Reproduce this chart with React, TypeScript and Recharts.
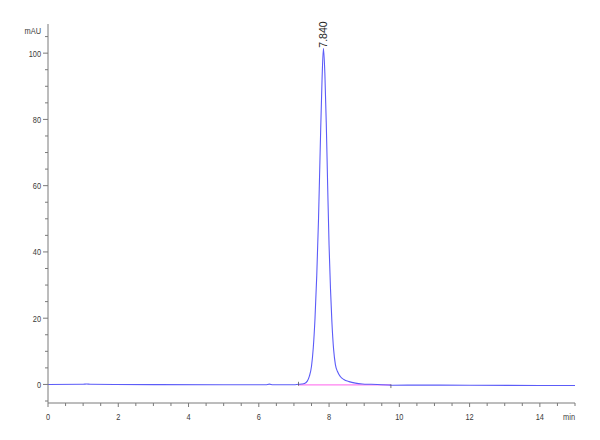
import React from 'react';
import { LineChart, Line, XAxis, YAxis, ReferenceDot, ReferenceLine } from 'recharts';

// retention time (min) and detector signal (mAU)
const times = [
  0, 1.0, 1.1, 1.2, 1.9, 3.0, 5.0, 6.2, 6.3, 6.4, 7.0, 7.13, 7.22, 7.3, 7.38, 7.44, 7.5, 7.55,
  7.6, 7.65, 7.7, 7.75, 7.8, 7.84, 7.88, 7.92, 7.96, 8.0, 8.04, 8.08, 8.13, 8.18, 8.24, 8.32,
  8.42, 8.57, 8.75, 8.95, 9.2, 9.76, 9.8, 10.5, 12, 14, 15,
];
const signal = [
  0, 0.05, 0.15, 0.05, 0, -0.05, -0.1, -0.1, 0.1, -0.1, -0.1, 0.05, 0.12, 0.3, 1.0, 2.5, 5.5, 11,
  20, 33, 50, 72, 92, 101.5, 94, 79, 60, 42, 29, 19, 10.5, 6.0, 3.9, 2.4,
  1.5, 0.85, 0.4, 0.15, 0.05, -0.2, -0.25, -0.2, -0.25, -0.3, -0.3,
];

const baselineTimes = [7.13, 9.76];
const baselineValues = [-0.15, -0.15];

const peakTime = 7.84;
const peakHeight = 101.5;
const peakLabel = '7.840';

const xTicks = Array.from({ length: 31 }, (_, i) => i * 0.5);
const yTicks = [-5, 0, 5, 10, 15, 20, 25, 30, 35, 40, 45, 50, 55, 60, 65, 70, 75, 80, 85, 90, 95, 100, 105];

const data = times.map((t, i) => ({ t, mAU: signal[i] }));
const baseline = baselineTimes.map((t, i) => ({ t, base: baselineValues[i] }));

const axisColor = '#7a7a7a';
const textColor = '#3a3a3a';
const font = 'Liberation Sans, Arial, sans-serif';

const XTick = (props: any) => {
  const { x, y, payload } = props;
  const v = payload.value;
  const major = Math.abs(v % 2) < 1e-9;
  return (
    <g>
      <line x1={x} x2={x} y1={y} y2={y + (major ? 4 : 3)} stroke={axisColor} />
      {major && (
        <text
          transform={`translate(${x},${y + 16.5}) scale(0.78,1)`}
          textAnchor="middle"
          fontSize={9.5}
          fontFamily={font}
          fill={textColor}
        >
          {v}
        </text>
      )}
    </g>
  );
};

const YTick = (props: any) => {
  const { x, y, payload } = props;
  const v = payload.value;
  const major = v >= 0 && v % 20 === 0;
  return (
    <g>
      <line x1={x - (major ? 5 : 3)} x2={x} y1={y} y2={y} stroke={axisColor} />
      {major && (
        <text
          transform={`translate(${x - 7},${y + 3.4}) scale(0.78,1)`}
          textAnchor="end"
          fontSize={9.5}
          fontFamily={font}
          fill={textColor}
        >
          {v}
        </text>
      )}
    </g>
  );
};

const PeakLabel = (props: any) => {
  const { cx, cy } = props;
  return (
    <text
      transform={`translate(${cx + 3.5},${cy - 0.5}) rotate(-90)`}
      textAnchor="start"
      fontSize={10.5}
      fontFamily={font}
      fill="#222"
    >
      {peakLabel}
    </text>
  );
};

export default function App() {
  return (
    <div style={{ position: 'absolute', left: 0, top: 0, background: '#fff' }}>
      <LineChart width={600} height={440} margin={{ top: 24, right: 25, left: 0, bottom: 0 }}>
        <XAxis
          dataKey="t"
          type="number"
          domain={[0, 15]}
          ticks={xTicks}
          interval={0}
          height={37}
          tickSize={0}
          tickMargin={0}
          tickLine={false}
          tick={<XTick />}
          stroke={axisColor}
          allowDataOverflow
          label={{
            content: (p: any) => (
              <text
                transform={`translate(${p.viewBox.x + p.viewBox.width},${p.viewBox.y + 16.5}) scale(0.78,1)`}
                textAnchor="end"
                fontSize={9.5}
                fontFamily={font}
                fill={textColor}
              >
                min
              </text>
            ),
          }}
        />
        <YAxis
          type="number"
          domain={[-5.6, 108.8]}
          ticks={yTicks}
          interval={0}
          width={48}
          tickSize={0}
          tickMargin={0}
          tickLine={false}
          tick={<YTick />}
          stroke={axisColor}
          allowDataOverflow
          label={{
            content: (p: any) => (
              <text
                transform={`translate(${p.viewBox.x + p.viewBox.width - 7},${p.viewBox.y + 9.5}) scale(0.78,1)`}
                textAnchor="end"
                fontSize={9.5}
                fontFamily={font}
                fill={textColor}
              >
                mAU
              </text>
            ),
          }}
        />
        <Line
          data={baseline}
          dataKey="base"
          stroke="#ff80f0"
          strokeWidth={1.2}
          dot={false}
          isAnimationActive={false}
        />
        <Line
          data={data}
          dataKey="mAU"
          type="monotone"
          stroke="#5c5cf8"
          strokeWidth={1.1}
          dot={false}
          isAnimationActive={false}
        />
        <ReferenceLine
          segment={[{ x: baselineTimes[0], y: -0.4 }, { x: baselineTimes[0], y: 0.8 }]}
          stroke="#555"
          strokeWidth={0.8}
        />
        <ReferenceLine
          segment={[{ x: baselineTimes[1], y: -1.1 }, { x: baselineTimes[1], y: 0 }]}
          stroke="#555"
          strokeWidth={0.8}
        />
        <ReferenceDot x={peakTime} y={peakHeight} r={0} shape={<PeakLabel />} />
      </LineChart>
    </div>
  );
}
